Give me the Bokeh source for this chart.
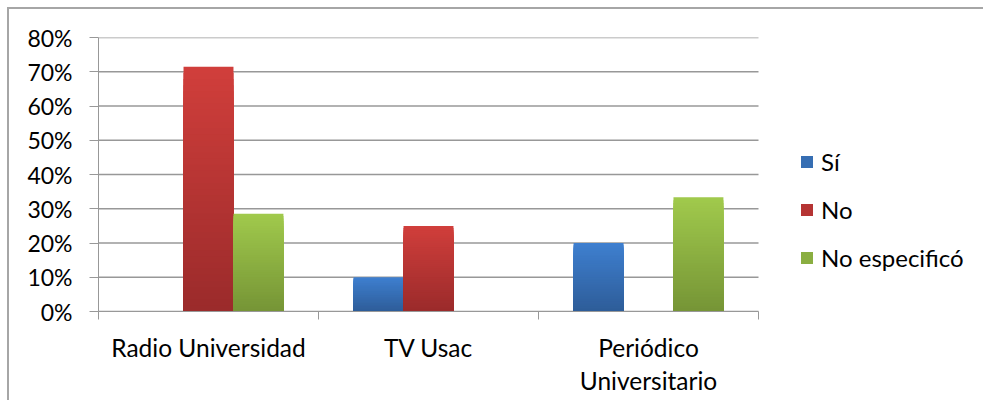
from bokeh.plotting import figure
from bokeh.models import Range1d, FixedTicker, NumeralTickFormatter, Legend, LegendItem, ColumnDataSource
from bokeh.embed import file_html
from bokeh.resources import INLINE

# ---- data ----
categories = ["Radio Universidad", "TV Usac", "Periódico\nUniversitario"]
series_names = ["Sí", "No", "No especificó"]
si_values = [0.0, 0.10, 0.20]
no_values = [0.7143, 0.25, 0.0]
noesp_values = [0.2857, 0.0, 0.3333]
y_ticks = [0.0, 0.1, 0.2, 0.3, 0.4, 0.5, 0.6, 0.7, 0.8]

# ---- styles ----
series_values = [si_values, no_values, noesp_values]
top_colors = ["#3E7FCF", "#D03E3B", "#A0C94C"]
bottom_colors = ["#2E5D99", "#9B2B2B", "#769536"]
FONT = "Lato"
GRID = "#989898"
N_SLICES = 40
BAR_W = 0.227
W, H = 976, 393
BL, BT, BB = 89, 28, 91
PLOT_PX = 660  # pixel width of the category area


def hex2rgb(h):
    h = h.lstrip("#")
    return tuple(int(h[i:i + 2], 16) for i in (0, 2, 4))


def mix(c_top, c_bot, t):
    a, b = hex2rgb(c_top), hex2rgb(c_bot)
    return "#%02x%02x%02x" % tuple(round(b[i] + (a[i] - b[i]) * t) for i in range(3))


n_cat = len(categories)
centers = [i + 0.5 for i in range(n_cat)]
bounds = [float(i) for i in range(n_cat + 1)]
x_end = n_cat * (W - BL) / PLOT_PX  # frame extends under the legend

p = figure(width=W, height=H, output_backend="svg", toolbar_location=None,
           x_range=Range1d(0, x_end), y_range=Range1d(0, y_ticks[-1]),
           min_border_left=BL, min_border_right=0, min_border_top=BT, min_border_bottom=BB)
p.outline_line_color = None
p.background_fill_color = "white"
p.border_fill_color = "white"
p.styles = {"border-top": "2px solid #a6a6a6", "border-left": "2px solid #a6a6a6",
            "margin-left": "7px", "margin-top": "7px"}

# horizontal gridlines limited to the category area
p.segment(x0=0, x1=n_cat, y0=y_ticks, y1=y_ticks, line_color=GRID, line_width=1.5)

legend_items = []
for s, (name, vals) in enumerate(zip(series_names, series_values)):
    offset = (s - 1) * BAR_W
    xs, tops, cols = [], [], []
    legend_index = None
    # draw from tallest (lightest) to shortest (darkest) to build a vertical gradient
    for k in range(N_SLICES, 0, -1):
        t = (k - 1) / (N_SLICES - 1)
        for i, v in enumerate(vals):
            if v <= 0:
                continue
            if legend_index is None and k == N_SLICES // 2:
                legend_index = len(xs)
            xs.append(centers[i] + offset)
            tops.append(v * k / N_SLICES)
            cols.append(mix(top_colors[s], bottom_colors[s], t))
    src = ColumnDataSource(dict(x=xs, top=tops, c=cols))
    r = p.vbar(x="x", top="top", bottom=0, width=BAR_W, fill_color="c", line_color=None, source=src)
    legend_items.append(LegendItem(label=name, renderers=[r], index=legend_index))

legend = Legend(items=legend_items, location=(701, 39), orientation="vertical",
                padding=0, margin=0, spacing=19, glyph_width=15, glyph_height=15,
                label_height=20, label_standoff=7,
                label_text_font=FONT, label_text_font_size="24px", label_text_color="#000000",
                border_line_color=None, background_fill_alpha=0)
p.add_layout(legend, "center")

# y axis
ya = p.yaxis[0]
ya.ticker = FixedTicker(ticks=y_ticks)
ya.formatter = NumeralTickFormatter(format="0%")
ya.axis_line_color = GRID
ya.major_tick_line_color = GRID
ya.major_tick_out = 9
ya.major_tick_in = 0
ya.minor_tick_line_color = None
ya.major_label_standoff = 17
ya.major_label_text_font = FONT
ya.major_label_text_font_size = "23px"
ya.major_label_text_color = "#000000"

# x axis: labels at category centres, tick marks between categories
xa = p.xaxis[0]
xa.bounds = (0, n_cat)
xa.ticker = FixedTicker(ticks=centers, minor_ticks=bounds)
xa.major_label_overrides = {c: lab for c, lab in zip(centers, categories)}
xa.axis_line_color = GRID
xa.major_tick_line_color = None
xa.major_tick_out = 0
xa.major_tick_in = 0
xa.minor_tick_line_color = GRID
xa.minor_tick_out = 8
xa.minor_tick_in = 0
xa.major_label_standoff = 13
xa.major_label_text_font = FONT
xa.major_label_text_font_size = "24.5px"
xa.major_label_text_color = "#000000"
xa.major_label_text_line_height = 1.16

p.xgrid.visible = False
p.ygrid.visible = False

open("out.html", "w").write(file_html(p, INLINE))
